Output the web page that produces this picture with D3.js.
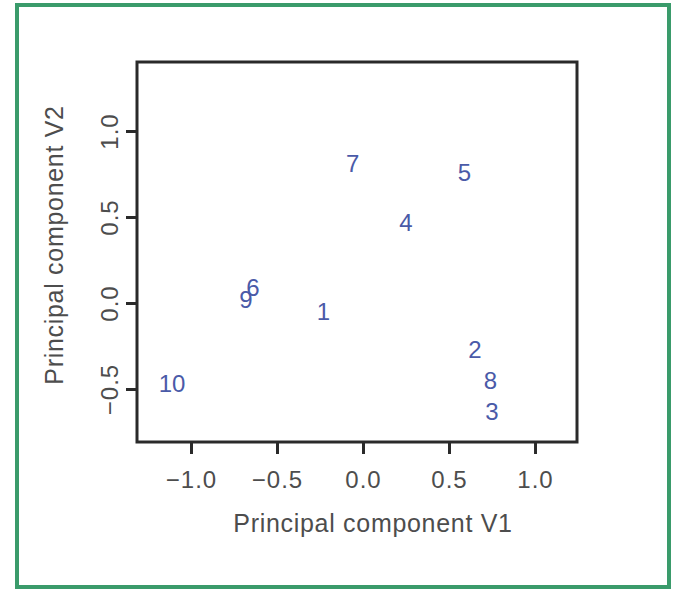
<!DOCTYPE html>
<html lang="en">
<head>
<meta charset="UTF-8">
<title>PCA scatter</title>
<script src="https://d3js.org/d3.v7.min.js"></script>
<style>
    body { margin: 0; background: #fff; font-family: "Liberation Sans", Arial, sans-serif; }
    .frame { fill: none; stroke: #3a9b6b; stroke-width: 4; }
    .box { fill: none; stroke: #2a2a2a; stroke-width: 3; }
    .tick-label { fill: #4d4d4d; font-size: 24px; letter-spacing: 1px; }
    .axis-title { fill: #4d4d4d; font-size: 25px; letter-spacing: 0.7px; }
    .pt { fill: #4a5aa8; font-size: 24px; }
</style>
</head>
<body>
<svg id="chart" width="673" height="590"></svg>
<script>
// scores on the first two principal components, one per sample
var labels = ["1", "2", "3", "4", "5", "6", "7", "8", "9", "10"];
var v1 = [-0.23, 0.65, 0.75, 0.25, 0.59, -0.64, -0.06, 0.74, -0.68, -1.11];
var v2 = [-0.05, -0.27, -0.63, 0.47, 0.76, 0.09, 0.81, -0.45, 0.02, -0.47];
var xTicks = [-1.0, -0.5, 0.0, 0.5, 1.0];
var yTicks = [-0.5, 0.0, 0.5, 1.0];

var margin = {top: 62, left: 137},
    width = 440,
    height = 380;

var svg = d3.select("#chart");

svg.append("rect").attr("class", "frame")
    .attr("x", 17).attr("y", 5).attr("width", 652).attr("height", 582);

var x = d3.scaleLinear().domain([-1.314, 1.244]).range([0, width]);
var y = d3.scaleLinear().domain([-0.808, 1.401]).range([height, 0]);

var g = svg.append("g")
    .attr("transform", "translate(" + margin.left + "," + margin.top + ")");

function fmt(d) { return d3.format(".1f")(d).replace("-", "\u2212"); }

// bottom axis
var xa = g.append("g")
    .attr("transform", "translate(0," + height + ")")
    .call(d3.axisBottom(x).tickValues(xTicks).tickSize(12).tickFormat(fmt));
xa.select(".domain").remove();
xa.selectAll("line").attr("stroke", "#2a2a2a").attr("stroke-width", 3);
xa.selectAll("text").attr("class", "tick-label").attr("fill", null)
    .attr("font-size", null).attr("font-family", null)
    .attr("y", 46).attr("dy", null);

// left axis, labels rotated like R's default
var ya = g.append("g")
    .call(d3.axisLeft(y).tickValues(yTicks).tickSize(11).tickFormat(fmt));
ya.select(".domain").remove();
ya.selectAll("line").attr("stroke", "#2a2a2a").attr("stroke-width", 3);
ya.selectAll("text").attr("class", "tick-label").attr("fill", null)
    .attr("font-size", null).attr("font-family", null)
    .attr("x", null).attr("dy", null)
    .attr("text-anchor", "middle")
    .attr("transform", "translate(-19,0) rotate(-90)");

g.append("rect").attr("class", "box")
    .attr("width", width).attr("height", height);

g.selectAll(".pt")
    .data(labels)
    .enter().append("text")
    .attr("class", "pt")
    .attr("x", function(d, i) { return x(v1[i]); })
    .attr("y", function(d, i) { return y(v2[i]); })
    .attr("text-anchor", "middle")
    .attr("dy", "0.36em")
    .text(function(d) { return d; });

svg.append("text").attr("class", "axis-title")
    .attr("x", 373).attr("y", 532)
    .attr("text-anchor", "middle")
    .text("Principal component V1");

svg.append("text").attr("class", "axis-title")
    .attr("transform", "translate(63,245) rotate(-90)")
    .attr("text-anchor", "middle")
    .text("Principal component V2");
</script>
</body>
</html>
